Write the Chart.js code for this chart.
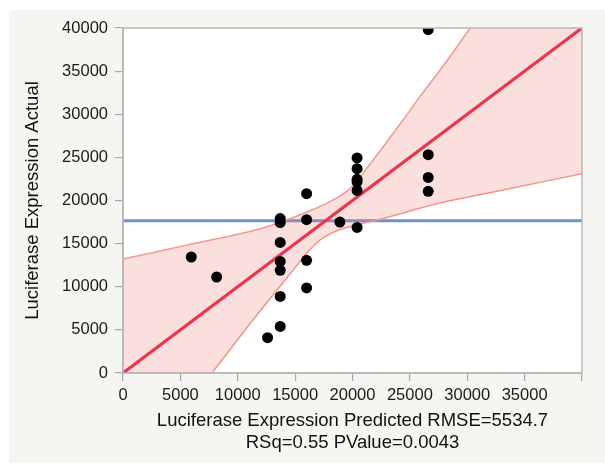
<!DOCTYPE html>
<html><head><meta charset="utf-8">
<script src="https://cdn.jsdelivr.net/npm/chart.js@4.4.0/dist/chart.umd.min.js"></script>
<style>
html,body{margin:0;padding:0;background:#fff;overflow:hidden;}
#panel{position:absolute;left:9px;top:10px;width:596px;height:453px;background:#f5f6f2;}
#c{position:absolute;left:0;top:0;}
</style></head><body>
<div id="panel"></div>
<canvas id="c" width="605" height="464"></canvas>
<script>
// Observations: Luciferase Expression Predicted vs Actual
const predicted = [5950, 8160, 12600, 13700, 13700, 13700, 13700, 13700, 13700, 13700,
                   16000, 16000, 16000, 16000, 18900, 20400, 20400, 20400, 20400, 20400, 20400,
                   26600, 26600, 26600, 26600];
const actual    = [13450, 11130, 4100, 17900, 17450, 15140, 12940, 11900, 8880, 5400,
                   20790, 17780, 13060, 9860, 17500, 24930, 23690, 22450, 22150, 21170, 16880,
                   39800, 25310, 22680, 21060];
// Mean of actual (horizontal reference line)
const meanActual = 17650;
// Fit line endpoints
const fitX = [0, 40000];
const fitY = [0, 40000];
// Confidence curves
const upperX = [0, 5810, 11910, 13220, 15830, 17570, 18700, 19630, 20380, 21340, 24390, 25850, 28170, 30200, 34000, 40000];
const upperY = [13220, 14900, 16700, 17250, 18550, 19550, 20350, 21200, 22300, 23900, 29300, 32000, 36090, 39880, 47000, 57500];
const lowerX = [0, 7750, 11910, 13360, 14810, 16260, 17200, 18100, 18880, 20620, 22360, 27000, 32820, 40000];
const lowerY = [-13200, 0, 7140, 9500, 11900, 14250, 15450, 16150, 16600, 17250, 17800, 19510, 21140, 23100];
// Tick labels
const xTickValues = [0, 5000, 10000, 15000, 20000, 25000, 30000, 35000, 40000];
const xTickLabels = ['0', '5000', '10000', '15000', '20000', '25000', '30000', '35000', ''];
const yTickValues = [0, 5000, 10000, 15000, 20000, 25000, 30000, 35000, 40000];
const yTickLabels = ['0', '5000', '10000', '15000', '20000', '25000', '30000', '35000', '40000'];
const xTitle = ['Luciferase Expression Predicted RMSE=5534.7', 'RSq=0.55 PValue=0.0043'];
const yTitle = 'Luciferase Expression Actual';

const FONT = '"Liberation Sans", Arial, sans-serif';
const pts = (xs, ys) => xs.map((x, i) => ({x: x, y: ys[i]}));

const areaPlugin = {
  id: 'area',
  beforeDraw(chart) {
    const {ctx, chartArea: a} = chart;
    ctx.save(); ctx.fillStyle = '#ffffff';
    ctx.fillRect(a.left, a.top, a.right - a.left, a.bottom - a.top);
    ctx.restore();
  },
  afterDraw(chart) {
    const {ctx, chartArea: a} = chart;
    ctx.save(); ctx.strokeStyle = '#b8b8b8'; ctx.lineWidth = 1.5;
    ctx.strokeRect(a.left, a.top, a.right - a.left, a.bottom - a.top);
    ctx.restore();
  }
};

new Chart(document.getElementById('c'), {
  type: 'scatter',
  data: {
    datasets: [
      { type: 'line', label: 'mean', data: pts([0, 40000], [meanActual, meanActual]),
        borderColor: '#6f8fd2', borderWidth: 3, pointRadius: 0, fill: false, order: 6 },
      { type: 'line', label: 'lower', data: pts(lowerX, lowerY),
        borderColor: '#f39a90', borderWidth: 1.5, pointRadius: 0, fill: false,
        cubicInterpolationMode: 'monotone', order: 5 },
      { type: 'line', label: 'upper', data: pts(upperX, upperY),
        borderColor: '#f39a90', borderWidth: 1.5, pointRadius: 0,
        fill: '-1', backgroundColor: 'rgba(240,120,108,0.24)',
        cubicInterpolationMode: 'monotone', order: 4 },
      { type: 'line', label: 'fit', data: pts(fitX, fitY),
        borderColor: '#e8384f', borderWidth: 3.2, pointRadius: 0, fill: false, order: 2 },
      { type: 'scatter', label: 'obs', data: pts(predicted, actual),
        backgroundColor: '#000', borderColor: '#000', pointRadius: 5.5, pointBorderWidth: 0,
        clip: 0, order: 0 }
    ]
  },
  options: {
    responsive: false, animation: false,
    layout: { padding: { left: 9, top: 28, right: 23, bottom: 10 } },
    plugins: { legend: { display: false }, tooltip: { enabled: false } },
    scales: {
      x: {
        type: 'linear', min: 0, max: 40000,
        afterBuildTicks: s => { s.ticks = xTickValues.map(v => ({value: v})); },
        afterFit: s => { s.height = 81; },
        ticks: { autoSkip: false, maxRotation: 0, padding: 5, color: '#1a1a1a',
                 font: { family: FONT, size: 16.5 },
                 callback: v => xTickLabels[xTickValues.indexOf(v)] },
        grid: { drawOnChartArea: false, drawTicks: true, tickLength: 8, color: '#a8a8a8', lineWidth: 1.2 },
        border: { display: true, color: '#b0b0b0', width: 1.5 },
        title: { display: true, text: xTitle, color: '#111', padding: { top: 0, bottom: 0 },
                 font: { family: FONT, size: 18.5, lineHeight: 1.2 } }
      },
      y: {
        type: 'linear', min: 0, max: 40000,
        afterBuildTicks: s => { s.ticks = yTickValues.map(v => ({value: v})); },
        afterFit: s => { s.width = 114; },
        ticks: { autoSkip: false, padding: 7, color: '#1a1a1a',
                 font: { family: FONT, size: 16.5 },
                 callback: v => yTickLabels[yTickValues.indexOf(v)] },
        grid: { drawOnChartArea: false, drawTicks: true, tickLength: 8, color: '#a8a8a8', lineWidth: 1.2 },
        border: { display: true, color: '#b0b0b0', width: 1.5 },
        title: { display: true, text: yTitle, color: '#111', padding: { top: 13, bottom: 0 },
                 font: { family: FONT, size: 18.5, lineHeight: 1.2 } }
      }
    }
  },
  plugins: [areaPlugin]
});
</script>
</body></html>
